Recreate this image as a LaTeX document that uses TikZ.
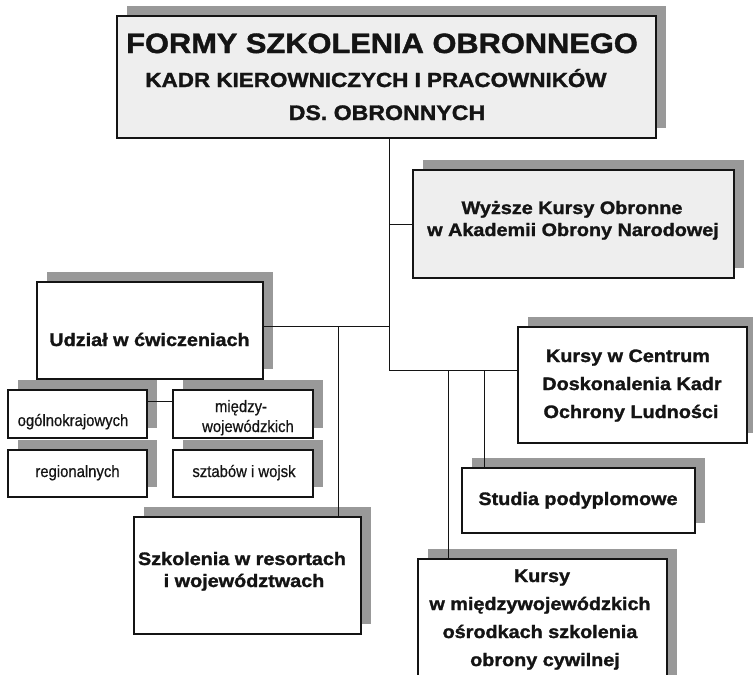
\documentclass[tikz,border=0pt]{standalone}
\usepackage{fontspec}
\setmainfont{Liberation Sans}[FakeStretch=1.1, BoldFeatures={FakeBold=1.5}]
\newfontfamily\plainsans{Liberation Sans}[FakeStretch=0.9, FakeBold=0.6]
\usetikzlibrary{shadows}

\definecolor{shade}{gray}{0.6}
\definecolor{paper}{gray}{0.935}
\definecolor{ink}{gray}{0.08}

\tikzset{
  box/.style={rectangle, draw=ink, line width=1.1pt, fill=white, inner sep=0pt,
    general shadow={fill=shade, shadow xshift=10pt, shadow yshift=10pt}},
  tinted/.style={box, fill=paper},
  conn/.style={draw=ink, line width=0.9pt},
  lbl/.style={font=\fontsize{18}{22}\selectfont\bfseries, anchor=base, inner sep=0pt, text=ink},
  sml/.style={font=\plainsans\fontsize{16.5}{18}\selectfont, anchor=base, inner sep=0pt, text=ink},
}

\begin{document}
\begin{tikzpicture}[x=1pt, y=-1pt]
\useasboundingbox (0,0) rectangle (753,675);
\clip (0,0) rectangle (753,675);

% boxes (centre, width, height)
\node[tinted, minimum width=539pt, minimum height=122pt] (title)   at (386.5,77)    {};
\node[tinted, minimum width=321pt, minimum height=108pt] (wyzsze)  at (573.5,224)   {};
\node[box,    minimum width=226pt, minimum height=97pt]  (udzial)  at (150,330.5)   {};
\node[box,    minimum width=229pt, minimum height=116pt] (centrum) at (632.5,385)   {};
\node[box,    minimum width=139pt, minimum height=48pt]  (ogol)    at (77.5,414)    {};
\node[box,    minimum width=140pt, minimum height=48pt]  (miedzy)  at (243,414)     {};
\node[box,    minimum width=139pt, minimum height=47pt]  (region)  at (77.5,473.5)  {};
\node[box,    minimum width=140pt, minimum height=47pt]  (sztab)   at (243,473.5)   {};
\node[box,    minimum width=233pt, minimum height=65pt]  (studia)  at (578.5,500.5) {};
\node[box,    minimum width=227pt, minimum height=117pt] (szkol)   at (247.5,575.5) {};
\node[box,    minimum width=249pt, minimum height=131pt] (osrodki) at (542.5,624.5) {};

% texts
\node[lbl, font=\fontsize{28}{28}\selectfont\bfseries] (titleA) at (382,53)  {FORMY SZKOLENIA OBRONNEGO};
\node[lbl, font=\fontsize{20.4}{20}\selectfont\bfseries] (titleB) at (376,87)  {KADR KIEROWNICZYCH I PRACOWNIKÓW};
\node[lbl, font=\fontsize{21}{21}\selectfont\bfseries] (titleC) at (387,120) {DS. OBRONNYCH};

\node[lbl] (wyzszeA) at (572,214) {Wyższe Kursy Obronne};
\node[lbl] (wyzszeB) at (573,236) {w Akademii Obrony Narodowej};

\node[lbl] (udzialT) at (149.5,346) {Udział w ćwiczeniach};

\node[sml] (ogolT)    at (73,426)   {ogólnokrajowych};
\node[sml] (regionT)  at (77.5,477) {regionalnych};
\node[sml] (miedzyA)  at (241,412)  {między-};
\node[sml] (miedzyB)  at (248,432)  {wojewódzkich};
\node[sml] (sztabT)   at (244,477)  {sztabów i wojsk};

\node[lbl] (centrumA) at (628,362) {Kursy w Centrum};
\node[lbl] (centrumB) at (632,390) {Doskonalenia Kadr};
\node[lbl] (centrumC) at (631,418) {Ochrony Ludności};

\node[lbl] (studiaT) at (578,505) {Studia podyplomowe};

\node[lbl] (szkolA) at (242,565) {Szkolenia w resortach};
\node[lbl] (szkolB) at (244,587) {i województwach};

\node[lbl] (osrodkiA) at (542,582) {Kursy};
\node[lbl] (osrodkiB) at (540,610) {w międzywojewódzkich};
\node[lbl] (osrodkiC) at (540,638) {ośrodkach szkolenia};
\node[lbl] (osrodkiD) at (545,666) {obrony cywilnej};

% junction points of the connector tree
\coordinate (tA) at (389,224);
\coordinate (tB) at (389,326);
\coordinate (tC) at (389,370);
\coordinate (bS) at (338,326);
\coordinate (bK) at (448,370);
\coordinate (bP) at (484,370);
\coordinate (oM) at (160,401);

% connectors
\draw[conn] (title.south -| tC) -- (tC) -- (centrum.west |- tC);
\draw[conn] (tA) -- (wyzsze.west);
\draw[conn] (udzial.east |- tB) -- (tB);
\draw[conn] (bS) -- (szkol.north -| bS);
\draw[conn] (bK) -- (osrodki.north -| bK);
\draw[conn] (bP) -- (studia.north -| bP);
\draw[conn] (ogol.east |- oM) -- (miedzy.west |- oM);
\end{tikzpicture}
\end{document}
